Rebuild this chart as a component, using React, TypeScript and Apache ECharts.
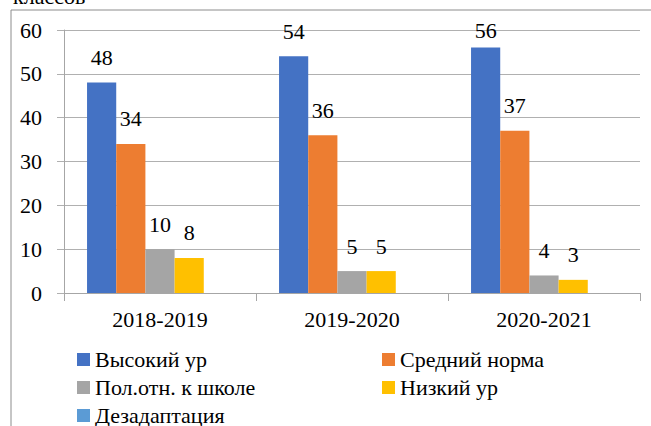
import React, { useEffect, useRef } from "react";
import * as echarts from "echarts";

const categories = ["2018-2019", "2019-2020", "2020-2021"];
const seriesNames = ["Высокий ур", "Средний норма", "Пол.отн. к школе", "Низкий ур", "Дезадаптация"];
const highLevel = [48, 54, 56];
const middleNorm = [34, 36, 37];
const positiveAttitude = [10, 5, 4];
const lowLevel = [8, 5, 3];
const maladaptation: (number | null)[] = [null, null, null];
const colors = ["#4472c4", "#ed7d31", "#a5a5a5", "#ffc000", "#5b9bd5"];
const titleText = "классов";

const FONT = "Liberation Serif";

export default function App() {
  const ref = useRef<HTMLDivElement>(null);
  useEffect(() => {
    if (!ref.current) return;
    const chart = echarts.init(ref.current, undefined, { renderer: "svg" });
    const values = [highLevel, middleNorm, positiveAttitude, lowLevel, maladaptation];
    const series = seriesNames.map((name, i) => ({
      name,
      type: "bar" as const,
      data: values[i].map((v) =>
        v !== null && v >= 55 ? { value: v, label: { distance: 6 } } : v
      ),
      barGap: "0%",
      barCategoryGap: "24%",
      itemStyle: { color: colors[i] },
      label: {
        show: i < 4,
        position: "top" as const,
        distance: 14,
        fontSize: 22,
        fontFamily: FONT,
        color: "#000",
      },
    }));
    const legendText = { fontSize: 22, fontFamily: FONT, color: "#000", lineHeight: 23 };
    chart.setOption({
      animation: false,
      color: colors,
      grid: { left: 64, right: 11, top: 30, bottom: 133, containLabel: false },
      xAxis: {
        type: "category",
        data: categories,
        axisLine: { show: true, lineStyle: { color: "#a6a6a6", width: 1 } },
        axisTick: { show: true, length: 8, lineStyle: { color: "#a6a6a6" } },
        axisLabel: { fontSize: 22, fontFamily: FONT, color: "#000", margin: 15 },
      },
      yAxis: {
        type: "value",
        min: 0,
        max: 60,
        interval: 10,
        axisLine: { show: true, lineStyle: { color: "#a6a6a6", width: 1 } },
        axisTick: { show: true, length: 7, lineStyle: { color: "#b0b0b0" } },
        splitLine: { show: true, lineStyle: { color: "#b0b0b0", width: 1 } },
        axisLabel: { fontSize: 22, fontFamily: FONT, color: "#000", margin: 22 },
      },
      legend: [
        {
          data: [seriesNames[0], seriesNames[2], seriesNames[4]],
          orient: "vertical",
          left: 77,
          top: 348,
          height: 100,
          padding: 0,
          itemWidth: 13,
          itemHeight: 13,
          itemGap: 5,
          icon: "rect",
          textStyle: legendText,
        },
        {
          data: [seriesNames[1], seriesNames[3]],
          orient: "vertical",
          left: 382,
          top: 348,
          height: 100,
          padding: 0,
          itemWidth: 13,
          itemHeight: 13,
          itemGap: 5,
          icon: "rect",
          textStyle: legendText,
        },
      ],
      graphic: [
        {
          type: "rect",
          shape: { x: 11, y: 10, width: 700, height: 500 },
          style: { fill: "none", stroke: "#8c8c8c", lineWidth: 1 },
          silent: true,
        },
        {
          type: "text",
          x: 13,
          y: -15,
          style: { text: titleText, fontSize: 22, fontFamily: FONT, fill: "#000" },
        },
      ],
      series,
    });
    return () => chart.dispose();
  }, []);
  return (
    <div
      ref={ref}
      style={{ position: "fixed", left: 0, top: 0, width: 651, height: 426, background: "#fff" }}
    />
  );
}
